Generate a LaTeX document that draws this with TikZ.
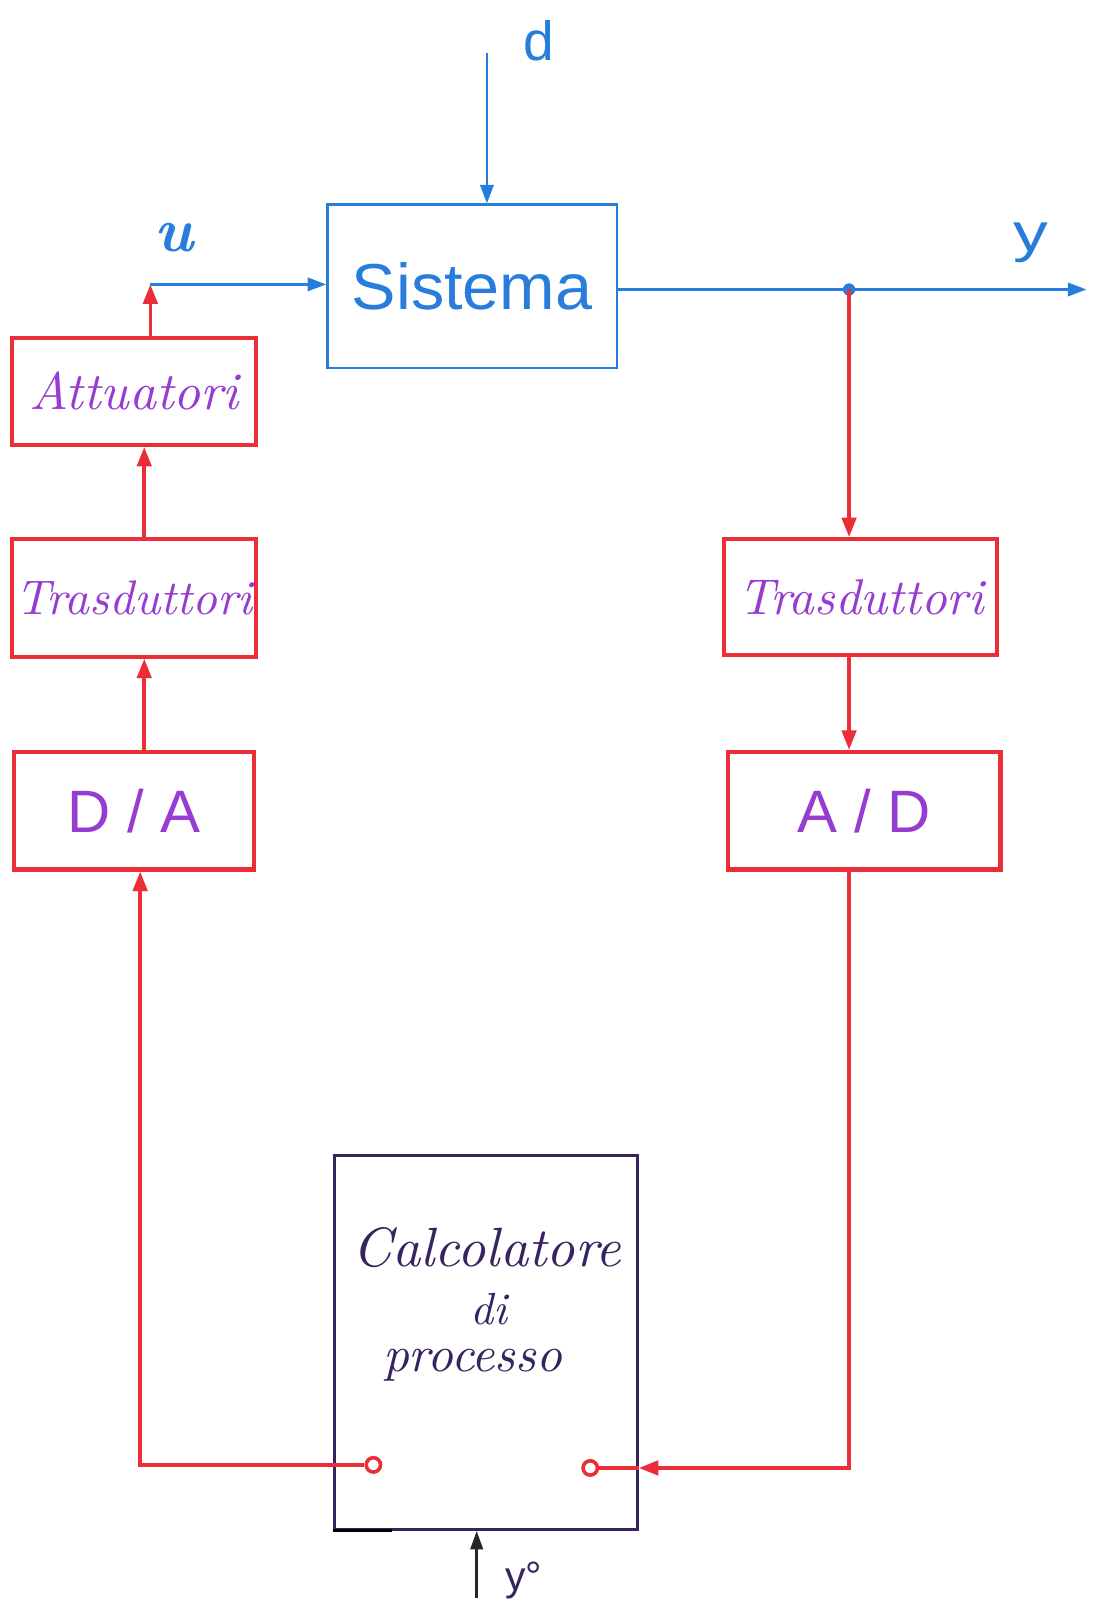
\documentclass[tikz,border=0pt]{standalone}
\usepackage{fontspec}
\setsansfont{Liberation Sans}
\usetikzlibrary{arrows.meta}
\definecolor{penblue}{RGB}{40,125,220}
\definecolor{penred}{RGB}{235,45,55}
\definecolor{penviolet}{RGB}{150,60,210}
\definecolor{penink}{RGB}{55,35,95}
% scale a piece of text to a given width
\newcommand{\fitw}[2]{\resizebox{#1}{!}{#2}}
\begin{document}
\begin{tikzpicture}[x=1pt,y=-1pt,
  sysbox/.style={draw=penblue, line width=2.4pt, rectangle, inner sep=0pt,
    minimum width=283pt, minimum height=160pt, text=penblue},
  redbox/.style={draw=penred, line width=4pt, rectangle, inner sep=0pt, text=penviolet},
  calcbox/.style={draw=penink, line width=3pt, rectangle, inner sep=0pt,
    minimum width=296pt, minimum height=365pt},
  bluewire/.style={draw=penblue, line width=2.4pt, -{Triangle[length=18pt,width=13pt]}},
  redwire/.style={draw=penred, line width=3.5pt, -{Triangle[length=19pt,width=14pt]}},
  inkwire/.style={draw=black!85, line width=2.8pt, -{Triangle[length=18pt,width=12pt]}},
  port/.style={circle, draw=penred, line width=3.5pt, fill=white, minimum size=14pt, inner sep=0pt},
  lbl/.style={inner sep=0pt}]

\useasboundingbox (0,0) rectangle (1071,1568);
\fill[white] (0,0) rectangle (1071,1568);

% plant
\node[sysbox] (sys) at (461.5,280) {\resizebox{235pt}{46pt}{\sffamily Sistema}};

% left chain
\node[redbox, minimum width=238pt, minimum height=105pt] (att) at (131,382.5)
  {\fitw{205pt}{\itshape Attuatori}};
\node[redbox, minimum width=238pt, minimum height=115pt] (trL) at (131,584.5)
  {\fitw{232pt}{\itshape Trasduttori}};
\node[redbox, minimum width=234pt, minimum height=115pt] (da) at (131,792.5)
  {\fitw{130pt}{\sffamily D / A}};

% right chain
\node[redbox, minimum width=267pt, minimum height=113pt] (trR) at (841.5,583.5)
  {\fitw{240pt}{\itshape Trasduttori}};
\node[redbox, minimum width=266pt, minimum height=115pt] (ad) at (845,792.5)
  {\fitw{130pt}{\sffamily A / D}};

% process computer
\node[calcbox] (calc) at (475,1312.5) {};
\draw[black, line width=3pt] (calc.south west) -- ++(58,0);
\node[lbl, text=penink] (calc1) at (476,1220) {\fitw{262pt}{\itshape Calcolatore}};
\node[lbl, text=penink] (calc2) at (478,1280) {\fitw{36pt}{\itshape di}};
\node[lbl, text=penink] (calc3) at (462,1335) {\fitw{175pt}{\itshape processo}};
\node[port] (portL) at (365,1432) {};
\node[port] (portR) at (577,1435) {};

% disturbance
\coordinate (dtop) at (476,52);
\draw[bluewire] (dtop) -- (dtop |- sys.north);
\node[lbl, text=penblue] (dlbl) at (527,40) {\fitw{30pt}{\sffamily d}};

% control input
\coordinate (ucorner) at (147,278);
\draw[redwire] (att.north -| ucorner) -- (ucorner);
\draw[bluewire] (ucorner) -- (ucorner -| sys.west);
\node[lbl, text=penblue] (ulbl) at (170,232) {\fitw{38pt}{\bfseries\itshape u}};

% output
\coordinate (yj) at (830,283);
\coordinate (yend) at (1062,283);
\draw[bluewire] (sys.east |- yj) -- (yend);
\fill[penblue] (yj) circle (6pt);
\node[lbl, text=penblue] (ylbl) at (1008,237) {\resizebox{34pt}{28pt}{\sffamily y}};

% measurement path
\draw[redwire] (yj) -- (yj |- trR.north);
\draw[redwire] (trR.south -| yj) -- (yj |- ad.north);
\coordinate (rb) at (830,1435);
\draw[redwire] (ad.south -| rb) -- (rb) -- (rb -| calc.east);
\draw[draw=penred, line width=3.5pt] (rb -| calc.east) -- (portR);

% actuation path
\coordinate (lb) at (137,1432);
\draw[redwire] (portL) -- (lb) -- (lb |- da.south);
\draw[redwire] ([xshift=10pt]da.north) -- ([xshift=10pt]trL.south);
\draw[redwire] ([xshift=10pt]trL.north) -- ([xshift=10pt]att.south);

% reference
\coordinate (yref) at (466,1562);
\draw[inkwire] (yref) -- (yref |- calc.south);
\node[lbl, text=penink] (yreflbl) at (512,1545) {\fitw{36pt}{\sffamily y°}};
\end{tikzpicture}
\end{document}
